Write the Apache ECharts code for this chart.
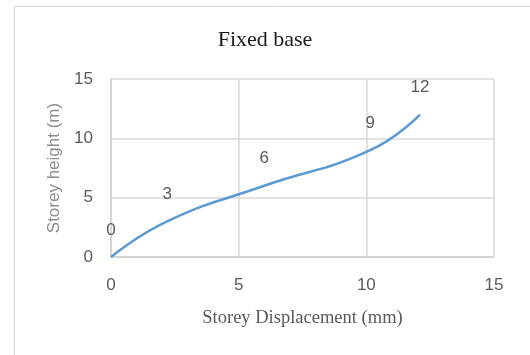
<!DOCTYPE html>
<html>
<head>
<meta charset="utf-8">
<script src="https://cdn.jsdelivr.net/npm/echarts@6/dist/echarts.min.js"></script>
<style>
  html, body { margin: 0; padding: 0; background: #fff; }
  #main { width: 530px; height: 355px; }
</style>
</head>
<body>
<div id="main"></div>
<script>
// storey displacement (mm) vs storey height (m)
const displacement = [0, 2.2, 6.0, 10.15, 12.1];
const storeyHeight = [0, 3, 6, 9, 12];
const xTicks = [0, 5, 10, 15];
const yTicks = [0, 5, 10, 15];

const seriesData = displacement.map((d, i) => [d, storeyHeight[i]]);

const tickFont = 'Liberation Sans';
const chart = echarts.init(document.getElementById('main'));

chart.setOption({
  animation: false,
  title: {
    text: 'Fixed base',
    left: 'center',
    top: 24,
    textStyle: { fontFamily: 'Liberation Serif', fontSize: 22, fontWeight: 'normal', color: '#1a1a1a' }
  },
  graphic: [{
    type: 'rect',
    shape: { x: 14.5, y: 6.5, width: 600, height: 400 },
    style: { fill: 'none', stroke: '#d9d9d9', lineWidth: 1 },
    silent: true
  }],
  grid: { left: 111, right: 36, top: 79, bottom: 98 },
  xAxis: {
    type: 'value',
    min: xTicks[0],
    max: xTicks[xTicks.length - 1],
    interval: 5,
    name: 'Storey Displacement (mm)',
    nameLocation: 'middle',
    nameGap: 52,
    nameTextStyle: { fontFamily: 'Liberation Serif', fontSize: 18.5, color: '#595959' },
    axisLine: { show: true, lineStyle: { color: '#d0d0d0', width: 1.5 } },
    axisTick: { show: false },
    axisLabel: { margin: 20, fontFamily: tickFont, fontSize: 17, color: '#595959' },
    splitLine: { show: true, lineStyle: { color: '#d9d9d9', width: 1.5 } }
  },
  yAxis: {
    type: 'value',
    min: yTicks[0],
    max: yTicks[yTicks.length - 1],
    interval: 5,
    name: 'Storey height (m)',
    nameLocation: 'middle',
    nameGap: 46,
    nameTextStyle: { fontFamily: tickFont, fontSize: 17, color: '#8c8c8c' },
    axisLine: { show: true, lineStyle: { color: '#d0d0d0', width: 1.5 } },
    axisTick: { show: false },
    axisLabel: { margin: 18, fontFamily: tickFont, fontSize: 17, color: '#595959' },
    splitLine: { show: true, lineStyle: { color: '#d9d9d9', width: 1.5 } }
  },
  series: [{
    type: 'line',
    data: seriesData,
    smooth: 0.5,
    showSymbol: true,
    symbol: 'circle',
    symbolSize: 1,
    itemStyle: { color: 'rgba(0,0,0,0)' },
    lineStyle: { color: '#5b9bd5', width: 2.5 },
    label: {
      show: true,
      position: 'top',
      distance: 18,
      fontFamily: tickFont,
      fontSize: 17,
      color: '#595959',
      formatter: p => p.data[1]
    }
  }]
});
</script>
</body>
</html>
